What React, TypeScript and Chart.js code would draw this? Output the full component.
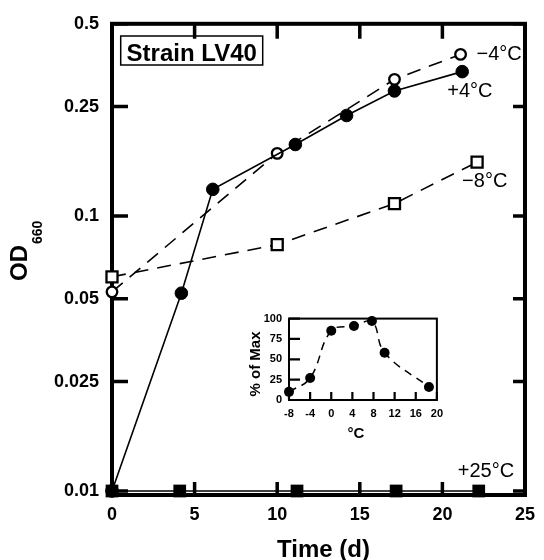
import React, { useEffect, useRef } from 'react';
import { Chart, registerables } from 'chart.js';

Chart.register(...registerables);

const FONT = '"Liberation Sans", Arial, Helvetica, sans-serif';

// ---- main chart data ----
const daysPlus4 = [0, 4.2, 6.1, 11.1, 14.2, 17.1, 21.2];
const odPlus4 = [0.01, 0.0524, 0.125, 0.182, 0.232, 0.285, 0.335];
const daysMinus4 = [0, 10, 17.1, 21.1];
const odMinus4 = [0.053, 0.169, 0.314, 0.387];
const daysMinus8 = [0, 10, 17.1, 22.1];
const odMinus8 = [0.0601, 0.0787, 0.111, 0.157];
const daysPlus25 = [0, 4.1, 11.2, 17.2, 22.2];
const odPlus25 = [0.01, 0.01, 0.01, 0.01, 0.01];

const xTickValues = [0, 5, 10, 15, 20, 25];
const yTickValues = [0.01, 0.025, 0.05, 0.1, 0.25, 0.5];
const yTickLabels = ['0.01', '0.025', '0.05', '0.1', '0.25', '0.5'];

// ---- inset data ----
const insetTemp = [-8, -4, 0, 4.3, 7.7, 10.1, 18.5];
const insetPct = [10, 27, 85, 91, 97, 58, 16];
const insetXTicks = [-8, -4, 0, 4, 8, 12, 16, 20];
const insetYTicks = [0, 25, 50, 75, 100];

const pts = (xs: number[], ys: number[]) => xs.map((x, i) => ({ x, y: ys[i] }));

const mainDecor = {
  id: 'mainDecor',
  beforeDatasetsDraw(chart: any) {
    const { ctx, chartArea: a, scales } = chart;
    const x = scales.x;
    const y = scales.y;
    ctx.save();
    ctx.strokeStyle = '#000';
    ctx.lineWidth = 4;
    ctx.strokeRect(a.left, a.top, a.right - a.left, a.bottom - a.top);
    ctx.lineWidth = 3.5;
    ctx.beginPath();
    for (const v of xTickValues) {
      const px = x.getPixelForValue(v);
      ctx.moveTo(px, a.bottom);
      ctx.lineTo(px, a.bottom - 13);
      ctx.moveTo(px, a.top);
      ctx.lineTo(px, a.top + 15);
    }
    for (const v of yTickValues) {
      const py = y.getPixelForValue(v);
      ctx.moveTo(a.left, py);
      ctx.lineTo(a.left + 16, py);
      ctx.moveTo(a.right, py);
      ctx.lineTo(a.right - 12, py);
    }
    ctx.stroke();
    ctx.restore();
  },
  afterDraw(chart: any) {
    const { ctx, scales, chartArea: a } = chart;
    const x = scales.x;
    const y = scales.y;
    ctx.save();
    ctx.fillStyle = '#000';
    ctx.strokeStyle = '#000';

    // Strain box
    ctx.lineWidth = 1.5;
    ctx.strokeRect(120.7, 36, 142, 29);
    ctx.font = `bold 24px ${FONT}`;
    ctx.textAlign = 'center';
    ctx.textBaseline = 'alphabetic';
    ctx.fillText('Strain LV40', 191.7, 60.5);

    // series labels anchored at last points
    ctx.font = `20px ${FONT}`;
    ctx.textAlign = 'left';
    const last = (xs: number[], ys: number[]) => [
      x.getPixelForValue(xs[xs.length - 1]),
      y.getPixelForValue(ys[ys.length - 1]),
    ];
    let [px, py] = last(daysMinus4, odMinus4);
    ctx.fillText('\u22124\u00B0C', px + 16, py + 6);
    [px, py] = last(daysPlus4, odPlus4);
    ctx.fillText('+4\u00B0C', px - 15, py + 25);
    [px, py] = last(daysMinus8, odMinus8);
    ctx.fillText('\u22128\u00B0C', px - 15, py + 25);
    [px, py] = last(daysPlus25, odPlus25);
    ctx.fillText('+25\u00B0C', px - 21, py - 14);

    // x title
    ctx.font = `bold 24px ${FONT}`;
    ctx.textAlign = 'center';
    ctx.fillText('Time (d)', (a.left + a.right) / 2 + 5, 556.5);

    // y title with subscript
    ctx.translate(27, 249);
    ctx.rotate(-Math.PI / 2);
    ctx.textAlign = 'left';
    ctx.font = `bold 24px ${FONT}`;
    ctx.fillText('OD', -32, 0);
    const w = ctx.measureText('OD').width;
    ctx.font = `bold 14px ${FONT}`;
    ctx.fillText('660', -32 + w + 1, 15);
    ctx.restore();
  },
};

const insetDecor = {
  id: 'insetDecor',
  beforeDatasetsDraw(chart: any) {
    const { ctx, chartArea: a, scales } = chart;
    ctx.save();
    ctx.strokeStyle = '#000';
    ctx.lineWidth = 2;
    ctx.strokeRect(a.left, a.top, a.right - a.left, a.bottom - a.top);
    ctx.lineWidth = 2.2;
    ctx.beginPath();
    for (const v of insetXTicks) {
      const px = scales.x.getPixelForValue(v);
      ctx.moveTo(px, a.bottom);
      ctx.lineTo(px, a.bottom - 8);
    }
    for (const v of insetYTicks) {
      const py = scales.y.getPixelForValue(v);
      ctx.moveTo(a.left, py);
      ctx.lineTo(a.left + 11, py);
    }
    ctx.stroke();
    ctx.restore();
  },
  afterDraw(chart: any) {
    const { ctx } = chart;
    ctx.save();
    ctx.fillStyle = '#000';
    ctx.font = `bold 15px ${FONT}`;
    ctx.textAlign = 'center';
    ctx.textBaseline = 'alphabetic';
    ctx.fillText('\u00B0C', 116, 133.3);
    ctx.translate(19.5, 59);
    ctx.rotate(-Math.PI / 2);
    ctx.fillText('% of Max', 0, 0);
    ctx.restore();
  },
};

function MainChart() {
  const ref = useRef<HTMLCanvasElement>(null);
  useEffect(() => {
    if (!ref.current) return;
    const tickFont = { family: FONT, size: 18, weight: 'bold' as const };
    const chart = new Chart(ref.current, {
      type: 'line',
      data: {
        datasets: [
          {
            label: '+25°C',
            data: pts(daysPlus25, odPlus25),
            borderColor: '#000',
            borderWidth: 1.6,
            pointStyle: 'rect',
            pointRadius: 9,
            pointBackgroundColor: '#000',
            pointBorderColor: '#000',
            pointBorderWidth: 0,
            clip: false,
          },
          {
            label: '+4°C',
            data: pts(daysPlus4, odPlus4),
            borderColor: '#000',
            borderWidth: 1.6,
            pointStyle: 'circle',
            pointRadius: 6.3,
            pointBackgroundColor: '#000',
            pointBorderColor: '#000',
            pointBorderWidth: 1,
            clip: false,
          },
          {
            label: '−4°C',
            data: pts(daysMinus4, odMinus4),
            borderColor: '#000',
            borderWidth: 1.6,
            borderDash: [14, 9],
            pointStyle: 'circle',
            pointRadius: 5.3,
            pointBackgroundColor: '#fff',
            pointBorderColor: '#000',
            pointBorderWidth: 2.3,
            clip: false,
          },
          {
            label: '−8°C',
            data: pts(daysMinus8, odMinus8),
            borderColor: '#000',
            borderWidth: 1.6,
            borderDash: [14, 9],
            pointStyle: 'rect',
            pointRadius: 7.8,
            pointBackgroundColor: '#fff',
            pointBorderColor: '#000',
            pointBorderWidth: 2.3,
            clip: false,
          },
        ],
      },
      options: {
        animation: false,
        responsive: false,
        maintainAspectRatio: false,
        layout: { padding: { top: 20, right: 14.5, left: 0, bottom: 0 } },
        plugins: { legend: { display: false }, tooltip: { enabled: false } },
        scales: {
          x: {
            type: 'linear',
            min: 0,
            max: 25,
            afterBuildTicks: (s: any) => {
              s.ticks = xTickValues.map((v) => ({ value: v }));
            },
            afterFit: (s: any) => {
              s.height = 65;
            },
            grid: { display: false, drawTicks: false },
            border: { display: false },
            ticks: { padding: 9, color: '#000', font: tickFont, autoSkip: false, maxRotation: 0 },
          },
          y: {
            type: 'logarithmic',
            min: 0.00967,
            max: 0.5,
            afterBuildTicks: (s: any) => {
              s.ticks = yTickValues.map((v) => ({ value: v }));
            },
            afterFit: (s: any) => {
              s.width = 112;
            },
            grid: { display: false, drawTicks: false },
            border: { display: false },
            ticks: {
              padding: 13,
              color: '#000',
              font: tickFont,
              autoSkip: false,
              callback: (v: any) => {
                const i = yTickValues.indexOf(Number(v));
                return i >= 0 ? yTickLabels[i] : '';
              },
            },
          },
        },
      },
      plugins: [mainDecor],
    } as any);
    return () => chart.destroy();
  }, []);
  return (
    <canvas
      ref={ref}
      width={544}
      height={560}
      style={{ position: 'absolute', left: 0, top: 0, width: 544, height: 560 }}
    />
  );
}

function InsetChart() {
  const ref = useRef<HTMLCanvasElement>(null);
  useEffect(() => {
    if (!ref.current) return;
    const tickFont = { family: FONT, size: 11, weight: 'bold' as const };
    const chart = new Chart(ref.current, {
      type: 'line',
      data: {
        datasets: [
          {
            label: '% of Max',
            data: pts(insetTemp, insetPct),
            borderColor: '#000',
            borderWidth: 1.5,
            borderDash: [8, 6],
            tension: 0.4,
            pointStyle: 'circle',
            pointRadius: 5,
            pointBackgroundColor: '#000',
            pointBorderColor: '#000',
            pointBorderWidth: 0,
            clip: false,
          },
        ],
      },
      options: {
        animation: false,
        responsive: false,
        maintainAspectRatio: false,
        layout: { padding: { top: 13, right: 11, left: 0, bottom: 0 } },
        plugins: { legend: { display: false }, tooltip: { enabled: false } },
        scales: {
          x: {
            type: 'linear',
            min: -8,
            max: 20,
            afterBuildTicks: (s: any) => {
              s.ticks = insetXTicks.map((v) => ({ value: v }));
            },
            afterFit: (s: any) => {
              s.height = 45;
            },
            grid: { display: false, drawTicks: false },
            border: { display: false },
            ticks: { padding: 7, color: '#000', font: tickFont, autoSkip: false, maxRotation: 0 },
          },
          y: {
            type: 'linear',
            min: 0,
            max: 100,
            afterBuildTicks: (s: any) => {
              s.ticks = insetYTicks.map((v) => ({ value: v }));
            },
            afterFit: (s: any) => {
              s.width = 49;
            },
            grid: { display: false, drawTicks: false },
            border: { display: false },
            ticks: { padding: 7, color: '#000', font: tickFont, autoSkip: false },
          },
        },
      },
      plugins: [insetDecor],
    } as any);
    return () => chart.destroy();
  }, []);
  return (
    <canvas
      ref={ref}
      width={210}
      height={140}
      style={{ position: 'absolute', left: 240, top: 305, width: 210, height: 140 }}
    />
  );
}

export default function App() {
  return (
    <div
      style={{
        position: 'fixed',
        left: 0,
        top: 0,
        width: 544,
        height: 560,
        background: '#fff',
        overflow: 'hidden',
      }}
    >
      <MainChart />
      <InsetChart />
    </div>
  );
}
